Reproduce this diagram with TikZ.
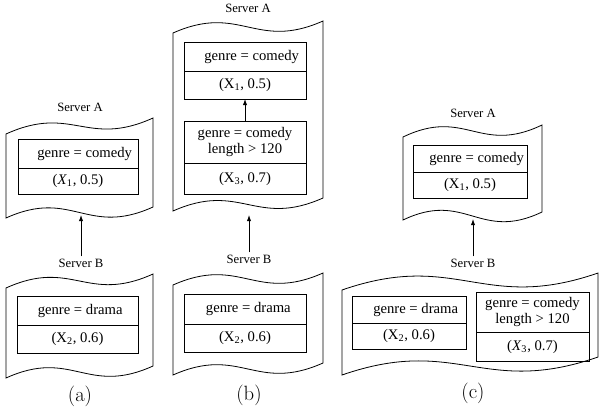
\documentclass[tikz,border=0pt]{standalone}
\usepackage{fontspec}
\newfontfamily\tnr{Liberation Serif}
\usetikzlibrary{arrows.meta}
\newcommand\tapeshape[7]{%
  \draw[tape] (#1,#3) .. controls ({#1+0.45*(#2-#1)},{#3-#7}) and ({#2-0.45*(#2-#1)},{#4+#7}) .. (#2,#4)
   -- (#2,#6) .. controls ({#2-0.45*(#2-#1)},{#6+#7}) and ({#1+0.45*(#2-#1)},{#5-#7}) .. (#1,#5) -- cycle;}
\newcommand\cellbox[6]{%
  \node[cell, minimum width={(#4-#2)*0.75pt}, minimum height={(#5-#3)*0.75pt}]
    (#1) at ({(#2+#4)/2},{(#3+#5)/2}) {#6};}
\tikzset{
  tape/.style={draw=black, line width=0.6pt},
  cell/.style={draw=black, line width=0.6pt, inner sep=0pt, outer sep=0pt, align=center,
    font=\tnr\fontsize{11}{12.5}\selectfont},
  srv/.style={font=\tnr\fontsize{9.5}{11}\selectfont, inner sep=1.5pt},
  sublabel/.style={font=\fontsize{15.5}{18}\selectfont},
  arr/.style={draw=black, line width=0.6pt, -{Latex[length=4.5pt,width=3.2pt]}},
}
\begin{document}
\begin{tikzpicture}[x=0.75pt,y=-0.75pt]
\useasboundingbox (0,0) rectangle (599,418);

% ---------------- (a)
\tapeshape{6}{153}{134}{118}{218}{207}{30}
\node[srv] (aSA) at (80,107) {Server A};
\cellbox{aA1}{18}{139}{138}{168}{\hspace*{10pt}genre = comedy}
\cellbox{aA2}{18}{168}{138}{194}{(\textit{X}\textsubscript{1}, 0.5)}
\tapeshape{6}{153}{288}{274}{378}{366}{30}
\node[srv] (aSB) at (81,263) {Server B};
\cellbox{aB1}{17}{296}{138}{325}{\hspace*{4pt}genre = drama}
\cellbox{aB2}{17}{325}{138}{353}{(X\textsubscript{2}, 0.6)}
\coordinate (aTip) at (81,215);
\draw[arr] (aSB) -- (aTip);
\node[sublabel] (capa) at (80,396) {(a)};

% ---------------- (b)
\tapeshape{173}{323}{33}{21}{211}{198}{30}
\node[srv] (bSA) at (248,8) {Server A};
\cellbox{bA1}{184}{42}{306}{71}{\hspace*{10pt}genre = comedy}
\cellbox{bA2}{184}{71}{306}{99}{(X\textsubscript{1}, 0.5)}
\cellbox{bA3}{184}{121}{306}{163}{genre = comedy\\length {\char"3E} 120}
\cellbox{bA4}{184}{163}{306}{194}{(X\textsubscript{3}, 0.7)}
\draw[arr] (bA3) -- (bA2);
\tapeshape{173}{323}{285}{273}{375}{363}{30}
\node[srv] (bSB) at (249,259) {Server B};
\cellbox{bB1}{184}{294}{306}{324}{\hspace*{5pt}genre = drama}
\cellbox{bB2}{184}{324}{306}{352}{(X\textsubscript{2}, 0.6)}
\coordinate (bTip) at (249,215);
\draw[arr] (bSB) -- (bTip);
\node[sublabel] (capb) at (249,395) {(b)};

% ---------------- (c)
\tapeshape{403}{542}{137}{125}{220}{212}{30}
\node[srv] (cSA) at (473,113) {Server A};
\cellbox{cA1}{413}{145}{527}{172}{\hspace*{10pt}genre = comedy}
\cellbox{cA2}{413}{172}{527}{198}{(X\textsubscript{1}, 0.5)}
\tapeshape{342}{598}{290}{273}{375}{357}{40}
\node[srv] (cSB) at (473,263) {Server B};
\cellbox{cB1}{352}{296}{466}{323}{\hspace*{10pt}genre = drama}
\cellbox{cB2}{352}{323}{466}{349}{(X\textsubscript{2}, 0.6)}
\cellbox{cB3}{476}{292}{589}{332}{genre = comedy\\length {\char"3E} 120}
\cellbox{cB4}{476}{332}{589}{361}{(\textit{X}\textsubscript{3}, 0.7)}
\coordinate (cTip) at (473,219);
\draw[arr] (cSB) -- (cTip);
\node[sublabel] (capc) at (473,393) {(c)};
\end{tikzpicture}
\end{document}
